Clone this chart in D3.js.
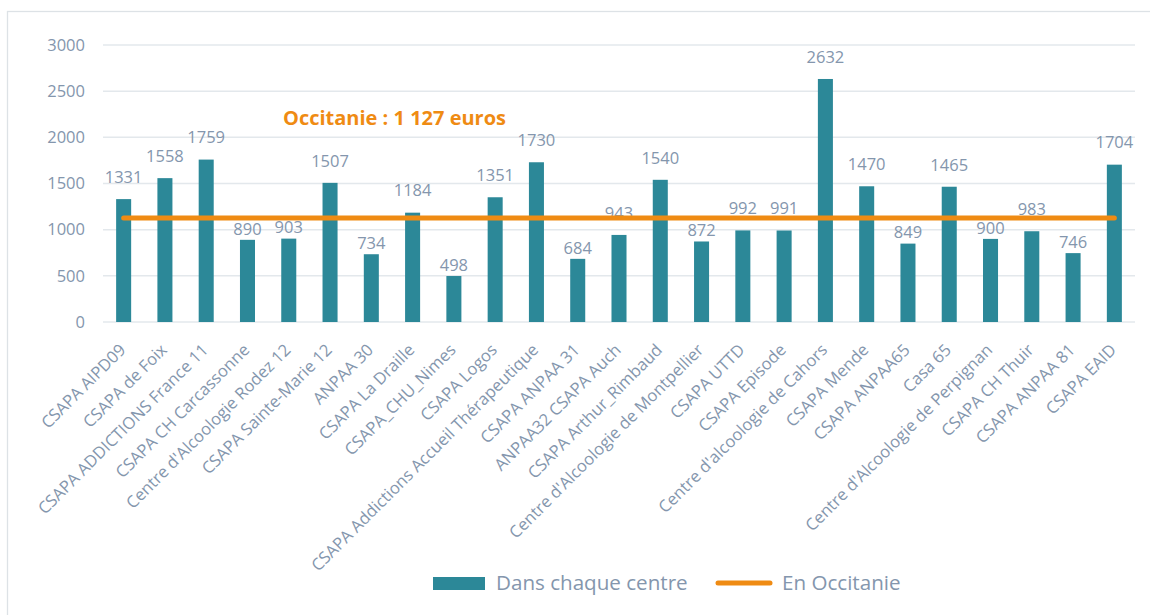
<!DOCTYPE html>
<html><head><meta charset="utf-8">
<script src="https://cdn.jsdelivr.net/npm/d3@7"></script>
<style>
body{margin:0;background:#fff;}
svg{display:block;font-family:"Open Sans",sans-serif;}
</style></head>
<body><svg id="c" width="1150" height="615"></svg>
<script>
const categories = ["CSAPA AIPD09","CSAPA de Foix","CSAPA ADDICTIONS France 11","CSAPA CH Carcassonne","Centre d'Alcoologie Rodez 12","CSAPA Sainte-Marie 12","ANPAA 30","CSAPA La Draille","CSAPA_CHU_Nimes","CSAPA Logos","CSAPA Addictions Accueil Thérapeutique","CSAPA ANPAA 31","ANPAA32 CSAPA Auch","CSAPA Arthur_Rimbaud","Centre d'Alcoologie de Montpellier","CSAPA UTTD","CSAPA Episode","Centre d'alcoologie de Cahors","CSAPA Mende","CSAPA ANPAA65","Casa 65","Centre d'Alcoologie de Perpignan","CSAPA CH Thuir","CSAPA ANPAA 81","CSAPA EAID"];
const centreValues = [1331,1558,1759,890,903,1507,734,1184,498,1351,1730,684,943,1540,872,992,991,2632,1470,849,1465,900,983,746,1704];
const occitanieValue = 1127;
const yTicks = [0,500,1000,1500,2000,2500,3000];
const seriesNames = ["Dans chaque centre","En Occitanie"];
const annotationText = "Occitanie : 1 127 euros";

const teal = "#2C8898", orange = "#EF8B13", txt = "#8496AD", grid = "#E3E8EC";
const svg = d3.select("#c");

svg.append("rect").attr("x",7.5).attr("y",11.5).attr("width",1160).attr("height",620)
  .attr("fill","none").attr("stroke","#DDE2E6").attr("stroke-width",1.3);

const x = d3.scaleBand().domain(categories).range([103,1135]).paddingInner(0.636).paddingOuter(0.318);
const y = d3.scaleLinear().domain([0,3000]).range([322,45]);

svg.append("g").selectAll("line").data(yTicks).join("line")
  .attr("x1",103).attr("x2",1135).attr("y1",d=>y(d)).attr("y2",d=>y(d))
  .attr("stroke",grid).attr("stroke-width",1.5);

svg.append("g").selectAll("text").data(yTicks).join("text")
  .attr("x",85).attr("y",d=>y(d)).attr("dy","0.35em").attr("text-anchor","end")
  .attr("fill",txt).attr("font-size",16.5).text(d=>d);

svg.append("g").selectAll("rect").data(centreValues).join("rect")
  .attr("x",(d,i)=>x(categories[i])).attr("width",x.bandwidth())
  .attr("y",d=>y(d)).attr("height",d=>y(0)-y(d)).attr("fill",teal);

svg.append("g").selectAll("text").data(categories).join("text")
  .attr("transform",d=>`translate(${x(d)+x.bandwidth()/2+3},351) rotate(-45)`)
  .attr("text-anchor","end").attr("fill",txt).attr("font-size",16.6).text(d=>d);

const lineY = y(occitanieValue);
svg.append("g").selectAll("text").data(centreValues).join("text")
  .attr("x",(d,i)=>x(categories[i])+x.bandwidth()/2)
  .attr("y",d=>{ let c = y(d)-22; if (d<occitanieValue && c>lineY-4) c = y(d)-11; return c; })
  .attr("dy","0.35em").attr("text-anchor","middle").attr("fill",txt).attr("font-size",16.5).text(d=>d);

svg.append("line")
  .attr("x1",x(categories[0])+x.bandwidth()/2).attr("x2",x(categories[categories.length-1])+x.bandwidth()/2)
  .attr("y1",lineY).attr("y2",lineY).attr("stroke",orange).attr("stroke-width",5).attr("stroke-linecap","round");

svg.append("text").attr("x",283).attr("y",118).attr("dy","0.35em").attr("fill",orange)
  .attr("font-weight","bold").attr("font-size",20).text(annotationText);

const lg = svg.append("g");
lg.append("rect").attr("x",433).attr("y",577).attr("width",52).attr("height",13).attr("fill",teal);
lg.append("text").attr("x",496).attr("y",583).attr("dy","0.35em").attr("fill",txt).attr("font-size",20.6).text(seriesNames[0]);
lg.append("line").attr("x1",718).attr("x2",770).attr("y1",583).attr("y2",583).attr("stroke",orange).attr("stroke-width",5).attr("stroke-linecap","round");
lg.append("text").attr("x",782).attr("y",583).attr("dy","0.35em").attr("fill",txt).attr("font-size",20.6).text(seriesNames[1]);
</script></body></html>
